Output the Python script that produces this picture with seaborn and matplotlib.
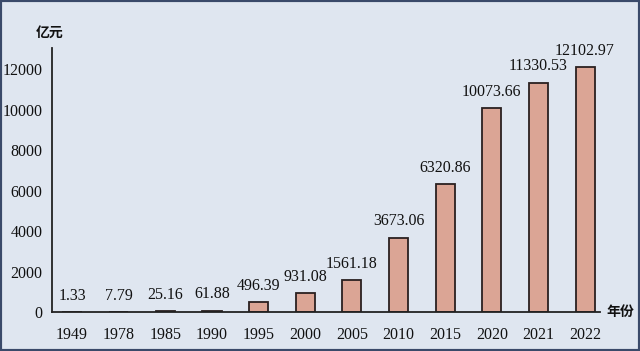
import matplotlib
matplotlib.use("Agg")
import matplotlib.pyplot as plt
import seaborn as sns
import pandas as pd

years = ["1949", "1978", "1985", "1990", "1995", "2000", "2005", "2010", "2015", "2020", "2021", "2022"]
values = [1.33, 7.79, 25.16, 61.88, 496.39, 931.08, 1561.18, 3673.06, 6320.86, 10073.66, 11330.53, 12102.97]
yticks = [0, 2000, 4000, 6000, 8000, 10000, 12000]

sns.set_style("white")
plt.rcParams['font.family'] = ['Liberation Serif', 'Noto Sans CJK SC']

df = pd.DataFrame({"year": years, "value": values})

bg = "#dfe6f0"
fig = plt.figure(figsize=(6.4, 3.51), dpi=100, facecolor=bg)
ax = fig.add_axes([52/640, 1-312/351, 548/640, 264/351])
ax.set_facecolor(bg)

sns.barplot(data=df, x="year", y="value", ax=ax, color="#dba595", saturation=1,
            width=0.41, edgecolor="#2a2020", linewidth=1.3)

ax.set_xlim(-0.43, 11.32)
ax.set_ylim(0, 13040)
ax.set_yticks(yticks)
ax.set_yticklabels([str(t) for t in yticks], fontsize=11.5, color="#111111")
ax.tick_params(axis="y", direction="in", length=5, width=1.3, color="#222222", pad=7)
ax.tick_params(axis="x", length=0, pad=11, labelsize=11.5, labelcolor="#111111")
ax.set_xlabel("")
ax.set_ylabel("")
for s in ["top", "right"]:
    ax.spines[s].set_visible(False)
for s in ["left", "bottom"]:
    ax.spines[s].set_color("#222222")
    ax.spines[s].set_linewidth(1.3)

for i, v in enumerate(values):
    ax.annotate(f"{v:.2f}", (i, v), xytext=(0, 6), textcoords="offset points",
                ha="center", va="bottom", fontsize=11.5, color="#111111")

fig.text(50/640, 1-33/351, "亿元", ha="center", va="center", fontsize=10,
         family=['Noto Sans CJK SC'], color="#111111", fontweight="bold")
fig.text(620/640, 1-312/351, "年份", ha="center", va="center", fontsize=10,
         family=['Noto Sans CJK SC'], color="#111111", fontweight="bold")

border = plt.Rectangle((0, 0), 1, 1, transform=fig.transFigure, fill=False,
                       edgecolor="#3a4a6a", linewidth=3)
fig.patches.append(border)

fig.savefig("out.png", dpi=100, facecolor=bg)
